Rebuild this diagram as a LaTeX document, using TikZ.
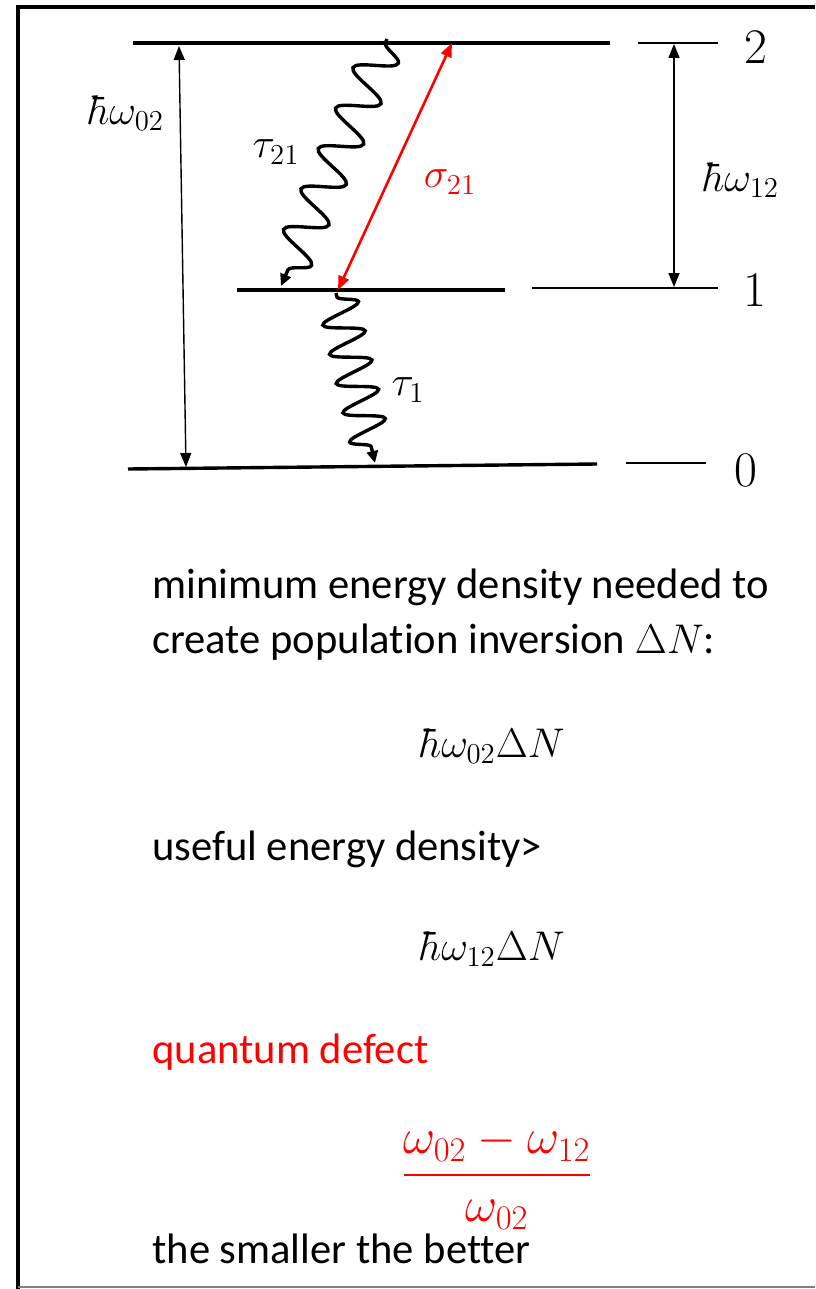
\documentclass[tikz,border=0pt]{standalone}
\usepackage{amsmath}
\usepackage{fontspec}
\setmainfont{Carlito}[Ligatures=NoCommon]
\usetikzlibrary{positioning, arrows.meta, decorations.pathmorphing}

\begin{document}
\begin{tikzpicture}[x=0.5pt,y=-0.5pt,font=\fontsize{21.3}{26}\selectfont,
  level/.style={line width=1.7pt},
  guide/.style={line width=0.7pt},
  gap/.style={line width=0.7pt,{Triangle[length=7pt,width=5.5pt]}-{Triangle[length=7pt,width=5.5pt]}},
  pump/.style={red,line width=1.3pt,{Triangle[length=7pt,width=5.5pt]}-{Triangle[length=7pt,width=5.5pt]}},
  decay/.style={line width=1.7pt,-{Triangle[length=6pt,width=5.5pt]},decorate,
    decoration={snake,amplitude=#1,pre length=2pt,post length=5pt}},
  lbl/.style={inner sep=1pt},
  num/.style={inner sep=0pt,font=\fontsize{23}{26}\selectfont},
  txt/.style={anchor=base west,inner sep=0pt}]
  \useasboundingbox (0,0) rectangle (815,1289);

  % 外框
  \draw[line width=2.2pt] (18,1289) -- (18,7) -- (815,7);
  \draw[gray,line width=0.8pt] (18,1287) -- (815,1287);

  % 能级
  \coordinate (L2a) at (133,43);  \coordinate (L2b) at (610,43);
  \coordinate (L1a) at (237,290); \coordinate (L1b) at (505,290);
  \coordinate (L0a) at (128,469); \coordinate (L0b) at (597,464);
  \draw[level] (L2a) -- (L2b);
  \draw[level] (L1a) -- (L1b);
  \draw[level] (L0a) -- (L0b);

  % 右侧参考线和编号
  \coordinate (G2a) at (638,43);  \coordinate (G2b) at (718,43);
  \coordinate (G1a) at (532,288); \coordinate (G1b) at (718,288);
  \coordinate (G0a) at (626,463); \coordinate (G0b) at (706,463);
  \draw[guide] (G2a) -- (G2b);
  \draw[guide] (G1a) -- (G1b);
  \draw[guide] (G0a) -- (G0b);
  \node[num] (n2) at (756,47) {$2$};
  \node[num] (n1) at (755,290) {$1$};
  \node[num] (n0) at (746,470) {$0$};

  % 能量间隔
  \coordinate (A2) at (179,46);  \coordinate (A0) at (186,467);
  \coordinate (B2) at (674,44);  \coordinate (B1) at (674,287);
  \draw[gap] (A2) -- (A0);
  \draw[gap] (B2) -- (B1);
  \node[lbl] (h02) at (127,113) {$\hbar\omega_{02}$};
  \node[lbl] (h12) at (742,180) {$\hbar\omega_{12}$};

  % 受激跃迁
  \coordinate (S2) at (452,43); \coordinate (S1) at (338,290);
  \draw[pump] (S1) -- (S2);
  \node[lbl,red] (sig) at (450,182) {$\sigma_{21}$};

  % 弛豫
  \coordinate (D2) at (387,39);  \coordinate (D1) at (281,286);
  \coordinate (E1) at (336,293); \coordinate (E0) at (375,463);
  \draw[decay=10pt,decoration={segment length=22pt}] (D2) -- (D1);
  \draw[decay=10pt,decoration={segment length=15pt}] (E1) -- (E0);
  \node[lbl] (t21) at (276,152) {$\tau_{21}$};
  \node[lbl] (t1) at (408,390) {$\tau_{1}$};

  % 文字
  \node[txt] (s1) at (152,598) {minimum energy density needed to};
  \node[txt] (s2) at (152,653) {create population inversion $\Delta N$:};
  \node[lbl,anchor=base,font=\fontsize{22}{26}\selectfont] (m1) at (493,757) {$\hbar\omega_{02}\Delta N$};
  \node[txt] (s3) at (152,860) {useful energy density>};
  \node[lbl,anchor=base,font=\fontsize{22}{26}\selectfont] (m2) at (493,960) {$\hbar\omega_{12}\Delta N$};
  \node[txt,red] (s4) at (152,1063) {quantum defect};
  \node[lbl,red,font=\fontsize{24}{28}\selectfont] (m3) at (497,1177) {$\dfrac{\omega_{02}-\omega_{12}}{\omega_{02}}$};
  \node[txt] (s5) at (152,1263) {the smaller the better};
\end{tikzpicture}
\end{document}
